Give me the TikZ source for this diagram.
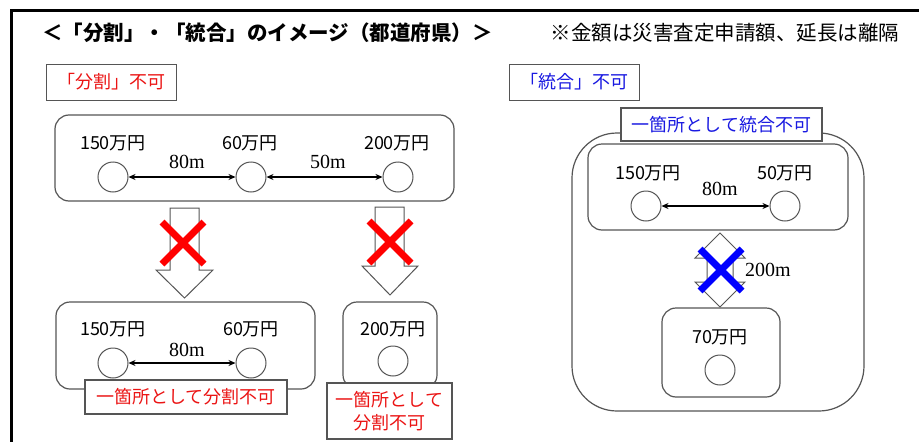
\documentclass[tikz,border=0pt]{standalone}
\usepackage{fontspec}
\setmainfont{Noto Sans CJK JP}
\newfontfamily\numfont{Liberation Serif}
\usetikzlibrary{arrows.meta}
\definecolor{bordergray}{RGB}{85,85,85}
\definecolor{txtred}{RGB}{235,20,20}
\definecolor{txtblue}{RGB}{25,25,225}
\begin{document}
\begin{tikzpicture}[x=1pt,y=-1pt,
  box/.style={draw=bordergray, line width=1.2pt, rounded corners=14pt, inner sep=0pt},
  site/.style={circle, draw=bordergray, line width=1pt, minimum size=30pt, inner sep=0pt},
  amt/.style={font=\fontsize{18}{20}\selectfont, inner sep=0pt},
  dist/.style={font=\numfont\fontsize{20}{22}\selectfont, inner sep=0pt},
  link/.style={{Stealth[length=7pt,width=6pt]}-{Stealth[length=7pt,width=6pt]}, line width=1.6pt},
  tag/.style={draw=bordergray, line width=1.2pt, fill=white, inner sep=0pt, font=\fontsize{18}{23}\selectfont, align=center},
  blockarrow/.style={draw=bordergray, line width=1pt, fill=white, line join=miter},
  cross/.style={line width=7pt}
]
\useasboundingbox (0,0) rectangle (919,442);
\fill[white] (0,0) rectangle (919,442);
\draw[line width=3pt] (11,442) -- (11,10) -- (919,10);

% headings
\node[font=\bfseries\fontsize{20.5}{24}\selectfont, inner sep=0pt] (title) at (267.5,33) {＜「分割」・「統合」のイメージ（都道府県）＞};
\node[font=\fontsize{20.5}{24}\selectfont, inner sep=0pt] (note) at (725,33) {※金額は災害査定申請額、延長は離隔};

\node[tag, line width=1pt, minimum width=130pt, minimum height=36pt, text=txtred] (splitng) at (111,82) {「分割」不可};
\node[tag, line width=1pt, minimum width=130pt, minimum height=36pt, text=txtblue] (mergeng) at (574,82) {「統合」不可};

% ---------- left: split ----------
\node[box, minimum width=399pt, minimum height=86pt] (topL) at (254.5,158) {};
\node[site] (a1) at (113,177) {};
\node[site] (a2) at (251,177) {};
\node[site] (a3) at (398,177) {};
\node[amt] (la1) at (113,143) {150万円};
\node[amt] (la2) at (250,143) {60万円};
\node[amt] (la3) at (397,143) {200万円};
\draw[link] (a1) -- (a2);
\draw[link] (a2) -- (a3);
\node[dist] (d1) at (187,162) {80m};
\node[dist] (d2) at (328,162) {50m};

\draw[blockarrow] (170,208) -- (199,208) -- (199,270) -- (213,270) -- (184.5,298) -- (156,270) -- (170,270) -- cycle;
\draw[blockarrow] (375,207) -- (404,207) -- (404,266) -- (418,266) -- (390,295) -- (362,266) -- (375,266) -- cycle;
\draw[cross, red] (162,222) -- (204,264) (162,264) -- (204,222);
\draw[cross, red] (369,221) -- (411,263) (369,263) -- (411,221);

\node[box, minimum width=259pt, minimum height=87pt] (botL) at (185.5,345.5) {};
\node[site] (b1) at (113,363) {};
\node[site] (b2) at (251,363) {};
\node[amt] (lb1) at (113,329) {150万円};
\node[amt] (lb2) at (251,329) {60万円};
\draw[link] (b1) -- (b2);
\node[dist] (d3) at (187,350) {80m};
\node[tag, minimum width=202pt, minimum height=34pt, text=txtred] (tagL) at (186,397) {一箇所として分割不可};

\node[box, minimum width=94pt, minimum height=87pt] (botR) at (390,345.5) {};
\node[site] (c1) at (393,361) {};
\node[amt] (lc1) at (393,329) {200万円};
\node[tag, minimum width=125pt, minimum height=56pt, text=txtred] (tagR) at (389.5,411) {一箇所として\\分割不可};

% ---------- right: merge ----------
\node[draw=bordergray, line width=1.2pt, rounded corners=45pt, minimum width=292pt, minimum height=278pt, inner sep=0pt] (outer) at (718,272) {};
\node[tag, minimum width=201pt, minimum height=33pt, text=txtblue] (tagM) at (721.5,124.5) {一箇所として統合不可};
\node[box, minimum width=260pt, minimum height=86pt] (inner) at (718,187) {};
\node[site] (e1) at (646,206) {};
\node[site] (e2) at (785,206) {};
\node[amt] (le1) at (648,173) {150万円};
\node[amt] (le2) at (785,173) {50万円};
\draw[link] (e1) -- (e2);
\node[dist] (d4) at (720,189) {80m};

\draw[blockarrow] (720,233) -- (745,258) -- (733,258) -- (733,282) -- (745,282) -- (720,307) -- (695,282) -- (707,282) -- (707,258) -- (695,258) -- cycle;
\draw[cross, blue] (700,249) -- (742,291) (700,291) -- (742,249);
\node[dist] (d5) at (768,270) {200m};

\node[box, minimum width=118pt, minimum height=89pt] (far) at (721,352.5) {};
\node[site] (f1) at (720,370) {};
\node[amt] (lf1) at (720,337) {70万円};
\end{tikzpicture}
\end{document}
